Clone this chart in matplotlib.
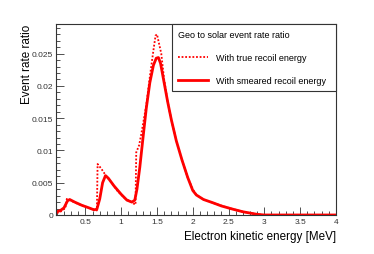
import matplotlib.pyplot as plt
from matplotlib.ticker import MultipleLocator, FuncFormatter

plt.rcParams["font.family"] = ["Liberation Sans", "DejaVu Sans"]

# Smeared recoil energy (solid)
e_smear = [0.10, 0.15, 0.20, 0.25, 0.28, 0.35, 0.45, 0.55, 0.62, 0.66,
           0.70, 0.74, 0.78, 0.82, 0.90, 1.00, 1.08, 1.15, 1.19, 1.22,
           1.26, 1.30, 1.35, 1.40, 1.45, 1.49, 1.52, 1.55, 1.60, 1.65,
           1.70, 1.77, 1.85, 1.93, 2.00, 2.05, 2.15, 2.28, 2.40, 2.56,
           2.70, 2.80, 2.90, 3.00, 4.00]
r_smear = [0.0005, 0.0007, 0.0011, 0.0022, 0.0024, 0.0020, 0.0015, 0.0011, 0.0008, 0.0009,
           0.0025, 0.0050, 0.0061, 0.0057, 0.0045, 0.0032, 0.0023, 0.0020, 0.0023, 0.0040,
           0.0074, 0.0115, 0.0165, 0.0205, 0.0232, 0.0243, 0.0244, 0.0235, 0.0205, 0.0175,
           0.0148, 0.0115, 0.0085, 0.0058, 0.0038, 0.0031, 0.0024, 0.0019, 0.0014, 0.0009,
           0.0005, 0.0003, 0.0001, 0.0, 0.0]

# True recoil energy (dotted)
e_true = [0.10, 0.15, 0.20, 0.22, 0.24, 0.30, 0.40, 0.50, 0.60, 0.66,
          0.67, 0.72, 0.78, 0.85, 0.95, 1.05, 1.15, 1.20, 1.21, 1.25,
          1.28, 1.35, 1.40, 1.45, 1.48, 1.50, 1.52, 1.56, 1.60, 1.65,
          1.70, 1.77, 1.85, 1.93, 2.00, 2.05, 2.15, 2.30, 2.50, 2.70,
          2.90, 3.00, 4.00]
r_true = [0.0003, 0.0005, 0.0009, 0.0011, 0.0025, 0.0022, 0.0017, 0.0013, 0.0009, 0.0007,
          0.0079, 0.0072, 0.0062, 0.0052, 0.0037, 0.0026, 0.0019, 0.0016, 0.0097, 0.0108,
          0.0125, 0.0170, 0.0214, 0.0255, 0.0278, 0.0280, 0.0270, 0.0250, 0.0210, 0.0175,
          0.0148, 0.0115, 0.0085, 0.0058, 0.0040, 0.0031, 0.0024, 0.0018, 0.0011, 0.0005,
          0.0001, 0.0, 0.0]

legend_title = "Geo to solar event rate ratio"
label_true = "With true recoil energy"
label_smear = "With smeared recoil energy"


def fmt_y(v, pos):
    if abs(v) < 1e-9:
        return "0"
    return ("%.3f" % v).rstrip("0")


def fmt_x(v, pos):
    return ("%.1f" % v).rstrip("0").rstrip(".")


fig = plt.figure(figsize=(3.74, 2.55), dpi=100)
ax = fig.add_axes([0.150, 0.153, 0.748, 0.749])

ax.plot(e_true, r_true, color="red", lw=1.3, ls=(0, (1, 1)), label=label_true)
ax.plot(e_smear, r_smear, color="red", lw=2.0, label=label_smear)

ax.set_xlim(0.09, 4.0)
ax.set_ylim(0, 0.0296)

ax.xaxis.set_major_locator(MultipleLocator(0.5))
ax.xaxis.set_minor_locator(MultipleLocator(0.1))
ax.yaxis.set_major_locator(MultipleLocator(0.005))
ax.yaxis.set_minor_locator(MultipleLocator(0.001))
ax.xaxis.set_major_formatter(FuncFormatter(fmt_x))
ax.yaxis.set_major_formatter(FuncFormatter(fmt_y))

ax.tick_params(which="both", direction="in", top=False, right=False,
               labelsize=6, colors="#333333", width=0.6)
ax.tick_params(which="major", length=6, pad=2)
ax.tick_params(which="minor", length=3)
for s in ax.spines.values():
    s.set_linewidth(0.8)
    s.set_color("#333333")

ax.set_xlabel("Electron kinetic energy [MeV]", fontsize=8.4, loc="right", labelpad=4)
ax.set_ylabel("Event rate ratio", fontsize=8.4, loc="top", labelpad=-1)

leg = ax.legend(title=legend_title, loc="upper right",
                bbox_to_anchor=(0.414, 0.665, 0.586, 0.335), mode="expand",
                borderaxespad=0, fancybox=False, edgecolor="#333333",
                fontsize=6.5, title_fontsize=6.5, handlelength=3.4,
                labelspacing=1.55, borderpad=0.65, framealpha=1)
leg._legend_box.align = "left"
leg.get_frame().set_linewidth(0.8)

fig.savefig("out.png", dpi=100)
